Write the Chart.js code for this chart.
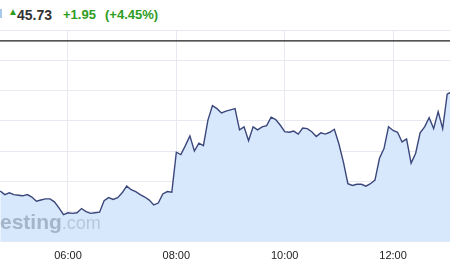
<!DOCTYPE html>
<html>
<head>
<meta charset="utf-8">
<script src="https://cdn.jsdelivr.net/npm/chart.js@4.4.1/dist/chart.umd.min.js"></script>
<style>
    html, body { margin: 0; padding: 0; background: #fff; width: 450px; height: 270px; overflow: hidden; }
    body { position: relative; font-family: "Liberation Sans", Arial, sans-serif; }
    #chartBox { position: absolute; left: 0; top: 30px; width: 450px; height: 241px; }
    .abs { position: absolute; white-space: nowrap; }
    #flag { left: 0; top: 9px; width: 2px; height: 9px; background: #a9c7ea; }
    #arrow { left: 8px; top: 7px; font-size: 10px; line-height: 10px; color: #2e9c22; }
    #last { left: 17px; top: 8px; font-size: 14px; line-height: 14px; font-weight: bold; color: #333; }
    .chg { top: 8px; font-size: 13px; line-height: 14px; font-weight: bold; color: #2e9c22; }
    #watermark { left: 0; top: 211px; font-size: 21px; line-height: 21px; font-weight: bold; color: rgba(115, 130, 150, 0.5); z-index: 2; }
    #watermark span { font-weight: normal; font-size: 18px; color: rgba(115, 130, 150, 0.32); }
</style>
</head>
<body>
<div id="flag" class="abs"></div>
<div id="arrow" class="abs">▲</div>
<div id="last" class="abs">45.73</div>
<div id="change" class="abs chg" style="left:63px">+1.95</div>
<div id="changePct" class="abs chg" style="left:105px">(+4.45%)</div>
<div id="chartBox"><canvas id="priceChart" width="450" height="241"></canvas></div>
<div id="watermark" class="abs">esting<span>.com</span></div>
<script>
// --- Data ---
// 5-minute closes, 04:45 to 13:05
const START_MINUTE = 285;
const STEP_MINUTES = 5;

const PRICES = [
    44.09, 44.03, 44.06, 44.03, 44.02, 44.01, 44.03, 43.99, 43.92, 43.94,
    43.96, 43.96, 43.91, 43.81, 43.70, 43.73, 43.72, 43.73, 43.80, 43.75,
    43.72, 43.73, 43.74, 43.93, 43.98, 43.95, 43.98, 44.06, 44.17, 44.11,
    44.08, 44.03, 43.99, 43.94, 43.86, 43.89, 44.04, 44.08, 44.07, 44.73,
    44.69, 44.84, 45.00, 44.75, 44.88, 44.84, 45.26, 45.50, 45.45, 45.38,
    45.41, 45.43, 45.45, 45.10, 45.15, 44.92, 45.15, 45.10, 45.15, 45.17,
    45.31, 45.27, 45.18, 45.07, 45.06, 45.08, 45.03, 45.13, 45.12, 45.07,
    44.99, 45.05, 45.03, 45.06, 45.11, 44.87, 44.57, 44.21, 44.18, 44.20,
    44.20, 44.17, 44.21, 44.27, 44.63, 44.79, 45.15, 45.09, 45.06, 44.90,
    44.95, 44.55, 44.71, 45.05, 45.15, 45.30, 45.12, 45.40, 45.12, 45.69,
    45.73
];

const TIMES = PRICES.map((_, i) => START_MINUTE + i * STEP_MINUTES);

const TICK_MINUTES = [360, 480, 600, 720];   // 06:00 08:00 10:00 12:00
const REF_LEVEL = 46.57;

const X_MIN = 284.7;
const X_MAX = 783.1;
const Y_MIN = 43.25;
const Y_MAX = 46.75;

const LINE_COLOR = '#3b477b';
const FILL_COLOR = '#d7e8fc';
const GRID_COLOR = '#e8e9f0';

// --- Helpers ---

function formatMinutes(m) {
    const h = Math.floor(m / 60);
    const mm = m % 60;
    return String(h).padStart(2, '0') + ':' + String(mm).padStart(2, '0');
}

// --- Chart ---

new Chart(document.getElementById('priceChart'), {
    type: 'line',
    data: {
        datasets: [
            {
                label: 'Price',
                data: TIMES.map((t, i) => ({ x: t, y: PRICES[i] })),
                borderColor: LINE_COLOR,
                borderWidth: 1.4,
                backgroundColor: FILL_COLOR,
                fill: 'start',
                pointRadius: 0,
                tension: 0
            },
            {
                label: 'Level',
                data: [{ x: X_MIN, y: REF_LEVEL }, { x: X_MAX, y: REF_LEVEL }],
                borderColor: '#1c1c1c',
                borderWidth: 1.2,
                pointRadius: 0,
                fill: false
            }
        ]
    },
    options: {
        responsive: false,
        animation: false,
        layout: { padding: { top: 0, left: 0, right: 0, bottom: 0 } },
        plugins: { legend: { display: false }, tooltip: { enabled: false } },
        scales: {
            x: {
                type: 'linear',
                min: X_MIN,
                max: X_MAX,
                afterBuildTicks: scale => {
                    scale.ticks = TICK_MINUTES.map(v => ({ value: v }));
                },
                ticks: {
                    callback: v => formatMinutes(v),
                    font: { size: 11, family: '"Liberation Sans", Arial, sans-serif' },
                    color: '#222',
                    padding: 8,
                    maxRotation: 0,
                    autoSkip: false
                },
                grid: { color: GRID_COLOR, drawTicks: false },
                border: { display: false }
            },
            y: {
                min: Y_MIN,
                max: Y_MAX,
                ticks: { display: false, stepSize: 0.5 },
                grid: { color: GRID_COLOR, drawTicks: false },
                border: { display: false }
            }
        }
    }
});
</script>
</body>
</html>
